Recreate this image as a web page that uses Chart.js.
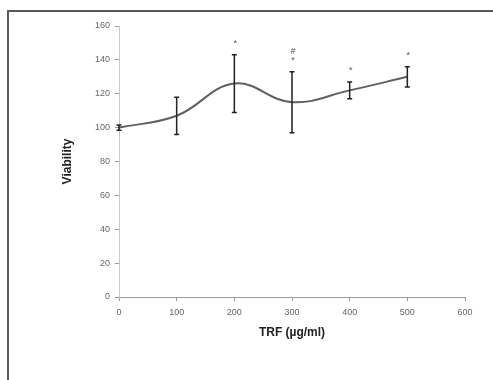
<!DOCTYPE html>
<html>
<head>
<meta charset="utf-8">
<script src="https://cdn.jsdelivr.net/npm/chart.js@4"></script>
<style>
  html, body { margin: 0; padding: 0; background: #fff; }
  #wrap { position: relative; width: 493px; height: 380px; }
</style>
</head>
<body>
<div id="wrap"><canvas id="myChart" width="493" height="380"></canvas></div>
<script>
// dose of TRF (ug/ml)
const doses = [0, 100, 200, 300, 400, 500];
const viability = [100, 107, 126, 115, 122, 130];
const errors = [1.5, 11, 17, 18, 5, 6];
// significance marks above each error bar (stacked, lowest first)
const marks = [[], [], ['*'], ['*', '#'], ['*'], ['*']];
const xTicks = [0, 100, 200, 300, 400, 500, 600];
const yTicks = [0, 20, 40, 60, 80, 100, 120, 140, 160];

const frame = {
  id: 'frame',
  beforeDraw(chart) {
    const ctx = chart.ctx;
    ctx.save();
    ctx.strokeStyle = '#5a5a5a';
    ctx.lineWidth = 2;
    ctx.beginPath();
    ctx.moveTo(8, 380);
    ctx.lineTo(8, 11);
    ctx.lineTo(493, 11);
    ctx.stroke();
    ctx.restore();
  }
};

const errorBars = {
  id: 'errorBars',
  afterDatasetsDraw(chart) {
    const ctx = chart.ctx;
    const xs = chart.scales.x, ys = chart.scales.y;
    ctx.save();
    ctx.strokeStyle = '#222';
    ctx.lineWidth = 1.5;
    doses.forEach((d, i) => {
      const x = xs.getPixelForValue(d);
      const top = ys.getPixelForValue(viability[i] + errors[i]);
      const bot = ys.getPixelForValue(viability[i] - errors[i]);
      ctx.beginPath();
      ctx.moveTo(x, top); ctx.lineTo(x, bot);
      ctx.moveTo(x - 2.5, top); ctx.lineTo(x + 2.5, top);
      ctx.moveTo(x - 2.5, bot); ctx.lineTo(x + 2.5, bot);
      ctx.stroke();
      // marks
      ctx.fillStyle = '#555';
      ctx.font = '9px "Liberation Sans", Arial, sans-serif';
      ctx.textAlign = 'center';
      ctx.textBaseline = 'middle';
      marks[i].forEach((m, k) => {
        ctx.fillText(m, x + 1, top - 11 - k * 9);
      });
    });
    ctx.restore();
  }
};

const tickFont = { family: '"Liberation Sans", Arial, sans-serif', size: 9 };
const titleFont = { family: '"Liberation Sans", Arial, sans-serif', size: 12, weight: 'bold' };

new Chart(document.getElementById('myChart').getContext('2d'), {
  type: 'line',
  data: {
    datasets: [{
      data: doses.map((d, i) => ({ x: d, y: viability[i] })),
      borderColor: '#606060',
      borderWidth: 2,
      pointRadius: 0,
      tension: 0.4,
      fill: false
    }]
  },
  options: {
    responsive: false,
    animation: false,
    layout: { padding: { left: 0, top: 26, right: 28, bottom: 0 } },
    plugins: { legend: { display: false }, tooltip: { enabled: false } },
    scales: {
      x: {
        type: 'linear',
        min: 0, max: 600,
        afterBuildTicks(s) { s.ticks = xTicks.map(v => ({ value: v })); },
        afterFit(s) { s.height = 83; },
        border: { color: '#9a9a9a', width: 1 },
        grid: { drawOnChartArea: false, drawTicks: true, tickLength: 4, color: '#9a9a9a' },
        ticks: { color: '#666', font: tickFont, padding: 6, maxRotation: 0 },
        title: { display: true, text: 'TRF (µg/ml)', color: '#222', font: titleFont, padding: { top: 0, bottom: 40 } }
      },
      y: {
        min: 0, max: 160,
        afterBuildTicks(s) { s.ticks = yTicks.map(v => ({ value: v })); },
        afterFit(s) { s.width = 119; },
        border: { color: '#c8c8c8', width: 1 },
        grid: { drawOnChartArea: false, drawTicks: true, tickLength: 4, color: '#9a9a9a' },
        ticks: { color: '#666', font: tickFont, padding: 5 },
        title: { display: true, text: 'Viability', color: '#222', font: titleFont, padding: { top: 60, bottom: 0 } }
      }
    }
  },
  plugins: [frame, errorBars]
});
</script>
</body>
</html>
